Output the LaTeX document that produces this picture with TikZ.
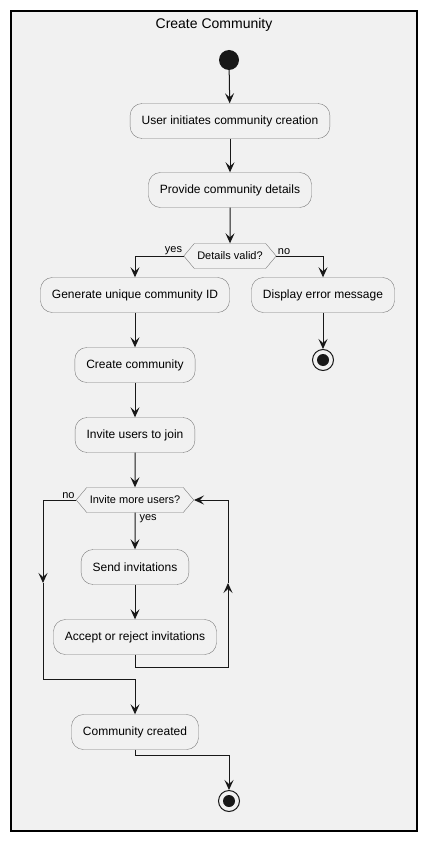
\documentclass[tikz,border=0pt]{standalone}
\usepackage{fontspec}
\setmainfont{Liberation Sans}
\usetikzlibrary{arrows.meta}
\usetikzlibrary{shapes.symbols}

\definecolor{panel}{HTML}{F1F1F1}
\definecolor{ink}{HTML}{181818}
\definecolor{edge}{HTML}{7A7A7A}

\begin{document}
\begin{tikzpicture}[x=1pt,y=-1pt,
    action/.style={draw=edge,fill=panel,rounded corners=12pt,minimum height=35pt,inner xsep=11.5pt,font=\fontsize{12}{14}\selectfont},
    choice/.style={draw=edge,fill=panel,signal,signal to=east and west,signal pointer angle=100,minimum height=25pt,inner xsep=3pt,font=\fontsize{11}{13}\selectfont},
    stopnode/.style={circle,draw=ink,line width=1pt,minimum size=21pt,inner sep=0pt,path picture={\fill[ink] (path picture bounding box.center) circle (6pt);}},
    flow/.style={draw=ink,line width=1pt,-{Stealth[length=10pt,width=9pt,inset=4pt]}},
    lbl/.style={font=\fontsize{11}{13}\selectfont,inner sep=1pt}]
    \path[use as bounding box] (0,0) rectangle (426,842);
    % Border.
    \draw[line width=1.5pt,fill=panel] (11,11) rectangle (417,831);
    \node[font=\fontsize{14}{16}\selectfont] (title) at (214,25) {Create Community};
    % Steps.
    \node[circle,fill=ink,minimum size=20pt,inner sep=0pt] (start) at (229,60) {};
    \node[action] (initiate) at (230,121) {User initiates community creation};
    \node[action] (details) at (230,190) {Provide community details};
    \node[choice] (valid) at (230,256) {Details valid?};
    \node[action] (genid) at (135,295) {Generate unique community ID};
    \node[action] (error) at (323,295) {Display error message};
    \node[stopnode] (stopa) at (323,360) {};
    \node[action] (create) at (135,365) {Create community};
    \node[action] (invite) at (135,435) {Invite users to join};
    \node[choice] (more) at (135,500) {Invite more users?};
    \node[action] (send) at (135,567) {Send invitations};
    \node[action] (accept) at (135,637) {Accept or reject invitations};
    \node[action] (done) at (135,732) {Community created};
    \node[stopnode] (stopb) at (229,801) {};
    % Main flow.
    \draw[flow] (start) -- (initiate);
    \draw[flow] (initiate) -- (details);
    \draw[flow] (details) -- (valid);
    \draw[flow] (valid.west) node[lbl,anchor=south east] {yes} -| (genid);
    \draw[flow] (valid.east) node[lbl,anchor=south west] {no} -| (error);
    \draw[flow] (error) -- (stopa);
    \draw[flow] (genid) -- (create);
    \draw[flow] (create) -- (invite);
    \draw[flow] (invite) -- (more);
    \draw[flow] (more) -- (send) node[lbl,pos=0,anchor=north west,xshift=3pt] {yes};
    \draw[flow] (send) -- (accept);
    % Loop back.
    \coordinate (loopr) at (228,667);
    \coordinate (loopm) at (228,583);
    \draw[flow] (accept.south) |- (loopr) -- (loopm);
    \draw[flow] (loopm) |- (more.east);
    % Exit.
    \coordinate (exitl) at (43,583);
    \coordinate (exitb) at (43,679);
    \draw[flow] (more.west) node[lbl,anchor=south east] {no} -| (exitl);
    \draw[flow] (exitl) -- (exitb) -| (done);
    \coordinate (endturn) at (229,755);
    \draw[flow] (done.south) |- (endturn) -- (stopb);
\end{tikzpicture}
\end{document}
